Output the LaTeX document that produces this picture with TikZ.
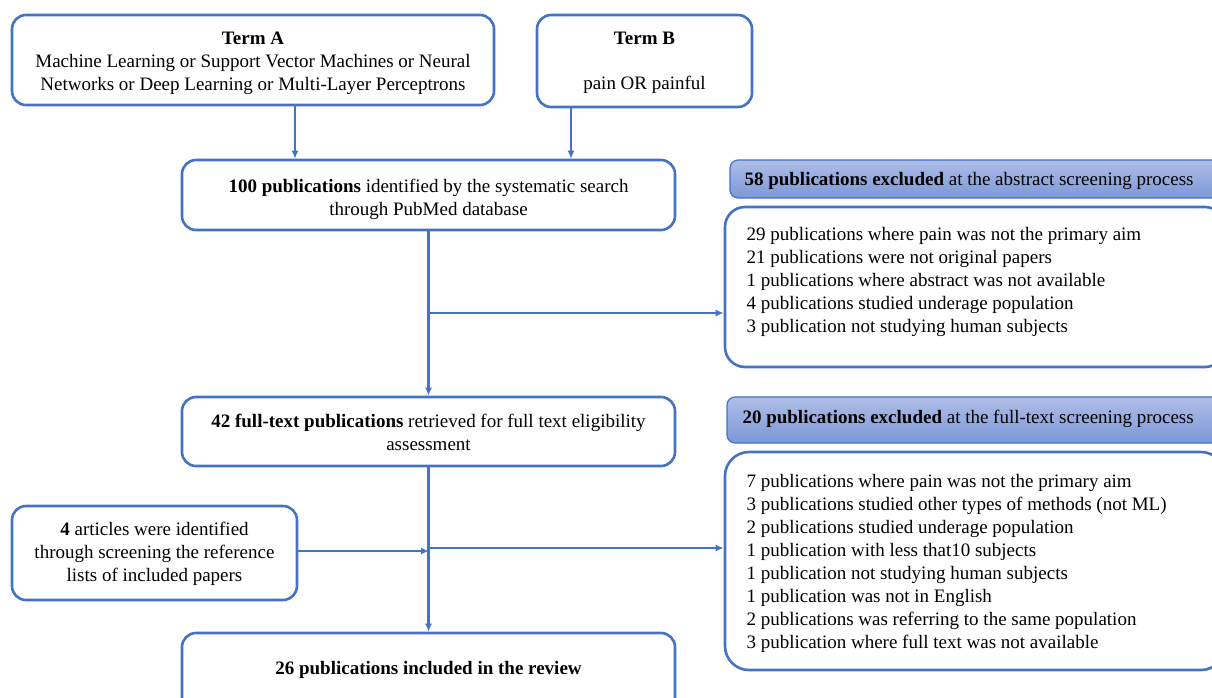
\documentclass[tikz,border=0pt]{standalone}
\usepackage{fontspec}
\setmainfont{Liberation Serif}
\usetikzlibrary{arrows.meta,calc}
\definecolor{bl}{HTML}{4472C4}
\definecolor{hdtop}{HTML}{AEBDE6}
\definecolor{hdbot}{HTML}{7C98D8}
\tikzset{
  box/.style={draw=bl, line width=2.6pt, rounded corners=14pt, fill=white, align=center, inner sep=0pt},
  hdr/.style={draw=bl, line width=1.2pt, rounded corners=8pt, top color=hdtop, bottom color=hdbot, inner sep=0pt},
  conn/.style={draw=bl, line width=2.4pt},
  arr/.style={conn, -{Latex[length=8pt,width=7pt]}},
  txt/.style={font=\fontsize{19}{23}\selectfont},
}
\begin{document}
\begin{tikzpicture}[x=1pt,y=-1pt]
\useasboundingbox (0,0) rectangle (1212,697);
\clip (0,0) rectangle (1212,697);
\fill[white] (0,0) rectangle (1212,697);
% main boxes
\node[box, minimum width=482pt, minimum height=90pt] (ta) at (253,60) {};
\node[txt, align=center] (tat) at (253,63) {\textbf{Term A}\\Machine Learning or Support Vector Machines or Neural\\Networks or Deep Learning or Multi-Layer Perceptrons};
\node[box, minimum width=215pt, minimum height=92pt] (tb) at (644.5,61) {};
\node[txt, align=center] (tbt) at (644.5,63) {\textbf{Term B}\\[22pt]pain OR painful};
\node[box, minimum width=493pt, minimum height=70pt] (p100) at (428.5,195) {};
\node[txt, align=center] (p100t) at (428.5,199) {\textbf{100 publications} identified by the systematic search\\through PubMed database};
\node[box, minimum width=493pt, minimum height=69pt] (p42) at (428.5,431.5) {};
\node[txt, align=center] (p42t) at (428.5,432) {\textbf{42 full-text publications} retrieved for full text eligibility\\assessment};
\node[box, minimum width=285pt, minimum height=94pt] (art) at (154.5,553) {};
\node[txt, align=center] (artt) at (154.5,554) {\textbf{4} articles were identified\\through screening the reference\\lists of included papers};
\node[box, minimum width=493pt, minimum height=80pt] (p26) at (428.5,673) {};
\node[txt] (p26t) at (428.5,670) {\textbf{26 publications included in the review}};
% right side
\node[hdr, minimum width=500pt, minimum height=38pt] (h1) at (980,179) {};
\node[txt, anchor=west] (h1t) at (741,181) {\textbf{58 publications excluded} at the abstract screening process};
\node[box, minimum width=500pt, minimum height=160pt, rounded corners=20pt] (ex1) at (975,287) {};
\node[txt, anchor=north west, align=left] (ex1t) at (743,224) {29 publications where pain was not the primary aim\\21 publications were not original papers\\1 publications where abstract was not available\\4 publications studied underage population\\3 publication not studying human subjects};
\node[hdr, minimum width=500pt, minimum height=46pt] (h2) at (977,420) {};
\node[txt, anchor=west] (h2t) at (739,419) {\textbf{20 publications excluded} at the full-text screening process};
\node[box, minimum width=500pt, minimum height=218pt, rounded corners=24pt] (ex2) at (975,561) {};
\node[txt, anchor=north west, align=left] (ex2t) at (743,471) {7 publications where pain was not the primary aim\\3 publications studied other types of methods (not ML)\\2 publications studied underage population\\1 publication with less that10 subjects\\1 publication not studying human subjects\\1 publication was not in English\\2 publications was referring to the same population\\3 publication where full text was not available};
% connectors
\coordinate (xa) at (295,0);
\coordinate (xb) at (571,0);
\coordinate (j1) at (429,313);
\coordinate (j2) at (429,548);
\coordinate (j3) at (429,551);
\draw[arr] (ta.south -| xa) -- (p100.north -| xa);
\draw[arr] (tb.south -| xb) -- (p100.north -| xb);
\draw[arr] (p100.south) -- (p42.north);
\draw[arr] (j1) -- (ex1.west |- j1);
\draw[arr] (p42.south) -- (p26.north);
\draw[arr] (j2) -- (ex2.west |- j2);
\draw[arr] (art.east |- j3) -- (j3);
\end{tikzpicture}
\end{document}
